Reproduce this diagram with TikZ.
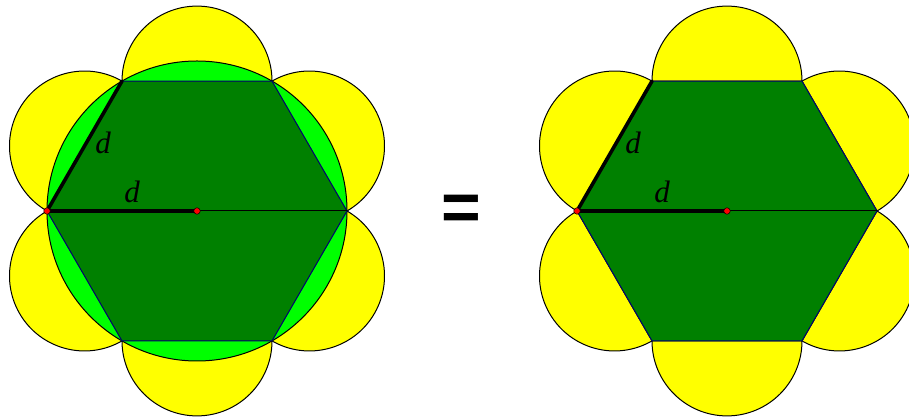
\documentclass[tikz,border=0pt]{standalone}
\usepackage{fontspec}
\setmainfont{Liberation Serif}
\newfontfamily\eqfont{Liberation Sans}
\definecolor{darkgreen}{RGB}{0,128,0}
\definecolor{petalyellow}{RGB}{255,255,0}
\definecolor{discgreen}{RGB}{0,255,0}
\definecolor{navyline}{RGB}{0,0,110}
\definecolor{dotred}{RGB}{255,0,0}
\begin{document}
\begin{tikzpicture}[x=1pt,y=1pt,
  petal/.style={fill=petalyellow,draw=black,line width=1pt},
  disc/.style={fill=discgreen,draw=black,line width=1pt},
  hexa/.style={fill=darkgreen,draw=navyline,line width=1pt},
  side/.style={line width=3.6pt,line cap=round},
  radius line/.style={line width=1pt},
  dot/.style={circle,fill=dotred,draw=black,line width=0.5pt,inner sep=0pt,minimum size=6.5pt},
  lbl/.style={font=\fontsize{31}{31}\selectfont\itshape}]
\useasboundingbox (0,0) rectangle (909,417);
\clip (0,0) rectangle (909,417);

% left: semicircles, circle, hexagon
\begin{scope}[shift={(197,206)}]
\foreach \a in {30,90,...,330}
  \filldraw[petal] ({\a-30}:150) arc[start angle=\a-90,end angle=\a+90,radius=75] -- cycle;
\filldraw[disc] (0,0) circle[radius=150];
\filldraw[hexa] (0:150) -- (60:150) -- (120:150) -- (180:150) -- (240:150) -- (300:150) -- cycle;
\coordinate (o1) at (0,0);
\coordinate (l1) at (180:150);
\coordinate (t1) at (120:150);
\coordinate (r1) at (0:150);
\draw[radius line] (o1) -- (r1);
\draw[side] (l1) -- (o1);
\draw[side] (l1) -- (t1);
\node[dot] (dl1) at (l1) {};
\node[dot] (do1) at (o1) {};
\node[lbl] (s1) at (-94,68) {d};
\node[lbl] (h1) at (-65,19) {d};
\end{scope}

\node[font=\eqfont\bfseries\fontsize{68}{68}\selectfont,anchor=base] (eq) at (461,186) {=};

% right: semicircles, hexagon
\begin{scope}[shift={(727,206)}]
\foreach \a in {30,90,...,330}
  \filldraw[petal] ({\a-30}:150) arc[start angle=\a-90,end angle=\a+90,radius=75] -- cycle;
\filldraw[hexa] (0:150) -- (60:150) -- (120:150) -- (180:150) -- (240:150) -- (300:150) -- cycle;
\coordinate (o2) at (0,0);
\coordinate (l2) at (180:150);
\coordinate (t2) at (120:150);
\coordinate (r2) at (0:150);
\draw[radius line] (o2) -- (r2);
\draw[side] (l2) -- (o2);
\draw[side] (l2) -- (t2);
\node[dot] (dl2) at (l2) {};
\node[dot] (do2) at (o2) {};
\node[lbl] (s2) at (-94,68) {d};
\node[lbl] (h2) at (-65,19) {d};
\end{scope}
\end{tikzpicture}
\end{document}
